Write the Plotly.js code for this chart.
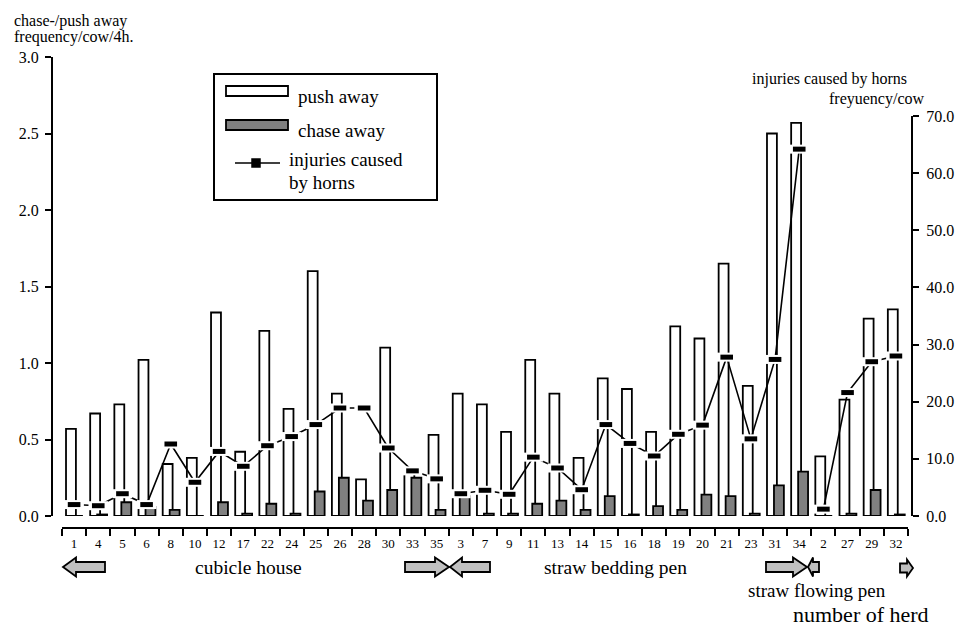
<!DOCTYPE html>
<html>
<head>
<meta charset="utf-8">
<script src="https://cdn.plot.ly/plotly-3.0.1.min.js"></script>
<style>
  html, body { margin: 0; padding: 0; background: #ffffff; }
  #chart { width: 958px; height: 626px; }
</style>
</head>
<body>
<div id="chart"></div>
<script>
// Herd numbers, grouped by housing system (cubicle house, straw bedding pen, straw flowing pen)
const herds = ['1','4','5','6','8','10','12','17','22','24','25','26','28','30','33','35',
               '3','7','9','11','13','14','15','16','18','19','20','21','23','31','34',
               '2','27','29','32'];
const groupSizes = [16, 15, 4];

// push away frequency per cow per 4 h
const pushAway = [0.57,0.67,0.73,1.02,0.34,0.38,1.33,0.42,1.21,0.70,1.60,0.80,0.24,1.10,0.31,0.53,
                  0.80,0.73,0.55,1.02,0.80,0.38,0.90,0.83,0.55,1.24,1.16,1.65,0.85,2.50,2.57,
                  0.39,0.76,1.29,1.35];
// chase away frequency per cow per 4 h
const chaseAway = [0,0.01,0.09,0.06,0.04,0,0.09,0.015,0.08,0.015,0.16,0.25,0.10,0.17,0.25,0.04,
                   0.13,0.015,0.015,0.08,0.10,0.04,0.13,0.01,0.065,0.04,0.14,0.13,0.015,0.20,0.29,
                   0,0.015,0.17,0.01];
// injuries caused by horns, frequency per cow
const injuries = [2.0,1.8,3.9,2.0,12.6,5.9,11.3,8.7,12.3,13.9,16.0,18.9,18.9,11.9,7.9,6.5,
                  3.9,4.5,3.8,10.3,8.4,4.6,16.0,12.7,10.5,14.3,15.9,27.8,13.5,27.4,64.2,
                  1.2,21.6,27.0,28.0];

const W = 958, H = 626, L = 52, R = 46, T = 57, B = 98;
const PW = W - L - R, PH = H - T - B;
const px = x => (x - L) / PW;
const py = y => (H - B - y) / PH;
const FONT = 'Liberation Serif, Times New Roman, serif';

// bars
const traces = [
  {
    type: 'bar', x: herds, y: pushAway, xaxis: 'x', yaxis: 'y',
    offset: -0.334, width: 0.41,
    marker: { color: '#ffffff', line: { color: '#000000', width: 1.8 } },
    name: 'push away', showlegend: false
  },
  {
    type: 'bar', x: herds, y: chaseAway, xaxis: 'x', yaxis: 'y',
    offset: -0.045, width: 0.41,
    marker: { color: '#808080', line: { color: '#000000', width: 1.8 } },
    name: 'chase away', showlegend: false
  }
];

// injury line, one segment per housing system
let start = 0;
groupSizes.forEach(n => {
  traces.push({
    type: 'scatter', mode: 'lines', xaxis: 'x', yaxis: 'y2',
    x: herds.slice(start, start + n), y: injuries.slice(start, start + n),
    line: { color: '#000000', width: 1.6 }, showlegend: false, hoverinfo: 'skip'
  });
  start += n;
});
// white halo behind each marker, then the black marker
traces.push({
  type: 'scatter', mode: 'markers', xaxis: 'x', yaxis: 'y2', x: herds, y: injuries,
  marker: { symbol: 'line-ew', size: 14, color: '#ffffff', line: { color: '#ffffff', width: 9 } },
  showlegend: false, hoverinfo: 'skip'
});
traces.push({
  type: 'scatter', mode: 'markers', xaxis: 'x', yaxis: 'y2', x: herds, y: injuries,
  marker: { symbol: 'line-ew', size: 9, color: '#000000', line: { color: '#000000', width: 5 } },
  name: 'injuries caused by horns', showlegend: false
});

// block arrows under the axis
function arrowPath(tip, base, tail, cy, headHalf, shaftHalf) {
  const pts = [[tip, cy], [base, cy - headHalf], [base, cy - shaftHalf], [tail, cy - shaftHalf],
               [tail, cy + shaftHalf], [base, cy + shaftHalf], [base, cy + headHalf]];
  return 'M' + pts.map(p => px(p[0]).toFixed(5) + ',' + py(p[1]).toFixed(5)).join('L') + 'Z';
}
const arrowStyle = { type: 'path', xref: 'paper', yref: 'paper', fillcolor: '#c0c0c0',
                     line: { color: '#000000', width: 1.8 } };
const shapes = [
  Object.assign({ path: arrowPath(63, 76, 105, 567, 9.5, 5) }, arrowStyle),
  Object.assign({ path: arrowPath(449, 435, 405, 567, 9.5, 5) }, arrowStyle),
  Object.assign({ path: arrowPath(450, 462, 490, 567, 9.5, 5) }, arrowStyle),
  Object.assign({ path: arrowPath(807, 793, 766, 567, 9.5, 5) }, arrowStyle),
  Object.assign({ path: arrowPath(808, 813, 819, 567, 9.5, 5) }, arrowStyle),
  Object.assign({ path: arrowPath(913, 907, 900, 568, 8.5, 4.5) }, arrowStyle),
  // legend frame and keys
  { type: 'rect', xref: 'paper', yref: 'paper', x0: px(214), x1: px(437), y0: py(74), y1: py(200),
    line: { color: '#000000', width: 2 }, fillcolor: 'rgba(0,0,0,0)' },
  { type: 'rect', xref: 'paper', yref: 'paper', x0: px(226), x1: px(288), y0: py(86), y1: py(96),
    line: { color: '#000000', width: 1.8 }, fillcolor: '#ffffff' },
  { type: 'rect', xref: 'paper', yref: 'paper', x0: px(226), x1: px(288), y0: py(120), y1: py(130),
    line: { color: '#000000', width: 1.8 }, fillcolor: '#808080' },
  { type: 'line', xref: 'paper', yref: 'paper', x0: px(235), x1: px(280), y0: py(163), y1: py(163),
    line: { color: '#000000', width: 1.6 } },
  { type: 'rect', xref: 'paper', yref: 'paper', x0: px(252), x1: px(260), y0: py(159), y1: py(167),
    line: { color: '#000000', width: 1.5 }, fillcolor: '#000000' }
];

function note(text, x, y, xanchor, size) {
  return { text: text, xref: 'paper', yref: 'paper', x: px(x), y: py(y),
           xanchor: xanchor, yanchor: 'middle', showarrow: false,
           font: { family: FONT, size: size, color: '#000000' } };
}
const annotations = [
  note('chase-/push away', 12, 21, 'left', 16),
  note('frequency/cow/4h.', 12, 37, 'left', 16),
  note('injuries caused by horns', 909, 79, 'right', 16),
  note('freyuency/cow', 927, 99, 'right', 16),
  note('push away', 296, 96, 'left', 19),
  note('chase away', 296, 130, 'left', 19),
  note('injuries caused', 287, 160, 'left', 19),
  note('by horns', 287, 182, 'left', 19),
  note('cubicle house', 248, 567, 'center', 19.5),
  note('straw bedding pen', 615, 567, 'center', 19.5),
  note('straw flowing pen', 817, 590, 'center', 19),
  note('number of herd', 861, 614, 'center', 22)
];

const yDomBottom = py(516);
const tickFont = { family: FONT, size: 16, color: '#000000' };

const layout = {
  width: W, height: H,
  margin: { l: L, r: R, t: T, b: B, pad: 0 },
  paper_bgcolor: '#ffffff', plot_bgcolor: 'rgba(0,0,0,0)',
  barmode: 'overlay', showlegend: false, hovermode: false,
  xaxis: {
    type: 'category', categoryorder: 'array', categoryarray: herds,
    range: [-0.5, herds.length - 0.5], domain: [px(62), px(908)],
    anchor: 'free', position: 0,
    showline: true, linecolor: '#000000', linewidth: 2,
    ticks: 'outside', tickson: 'boundaries', ticklen: 7, tickwidth: 2, tickcolor: '#000000',
    ticklabelstandoff: 3,
    showgrid: false, zeroline: false,
    tickfont: { family: FONT, size: 13, color: '#000000' }, tickangle: 0
  },
  xaxis2: {
    overlaying: 'x', anchor: 'free', position: 0, domain: [px(62), px(908)],
    range: [-0.5, herds.length - 0.5], tick0: -0.5, dtick: 1,
    ticks: 'inside', ticklen: 7, tickwidth: 2, tickcolor: '#000000',
    showticklabels: false, showline: false, showgrid: false, zeroline: false
  },
  yaxis: {
    range: [0, 3], domain: [yDomBottom, 1], anchor: 'free', position: 0,
    dtick: 0.5, tickformat: '.1f',
    showline: true, linecolor: '#000000', linewidth: 2,
    ticks: 'outside', ticklen: 6, tickwidth: 2, tickcolor: '#000000', ticklabelstandoff: 3,
    showgrid: false, zeroline: false, tickfont: tickFont
  },
  yaxis3: {
    overlaying: 'y', range: [0, 3], anchor: 'free', position: 0, dtick: 0.5,
    ticks: 'inside', ticklen: 6, tickwidth: 2, tickcolor: '#000000',
    showticklabels: false, showline: false, showgrid: false, zeroline: false
  },
  yaxis2: {
    range: [0, 70], domain: [yDomBottom, py(116)], anchor: 'free', position: 1, side: 'right',
    dtick: 10, tickformat: '.1f',
    showline: true, linecolor: '#000000', linewidth: 2,
    ticks: 'outside', ticklen: 6, tickwidth: 2, tickcolor: '#000000', ticklabelstandoff: 4,
    showgrid: false, zeroline: false, tickfont: tickFont
  },
  yaxis4: {
    overlaying: 'y2', range: [0, 70], anchor: 'free', position: 1, side: 'right', dtick: 10,
    ticks: 'inside', ticklen: 6, tickwidth: 2, tickcolor: '#000000',
    showticklabels: false, showline: false, showgrid: false, zeroline: false
  },
  shapes: shapes,
  annotations: annotations
};

Plotly.newPlot('chart', traces, layout, { displayModeBar: false, staticPlot: true });
</script>
</body>
</html>
